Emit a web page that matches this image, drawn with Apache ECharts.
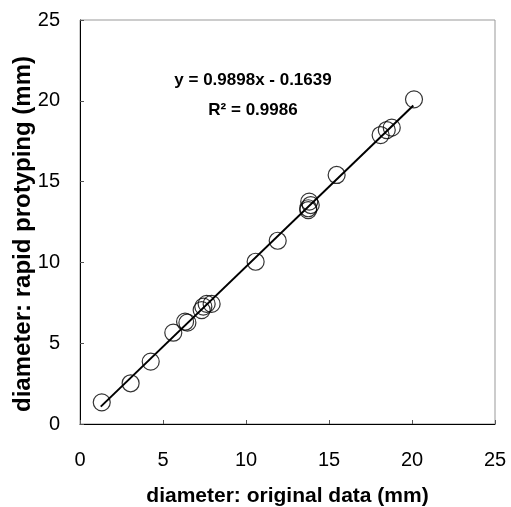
<!DOCTYPE html>
<html>
<head>
<meta charset="utf-8">
<script src="https://cdn.jsdelivr.net/npm/echarts@6/dist/echarts.min.js"></script>
<style>html,body{margin:0;padding:0;background:#fff;}#c{width:511px;height:507px;}</style>
</head>
<body>
<div id="c"></div>
<script>
// Data
const originalDiameter = [1.31, 3.05, 4.26, 5.62, 6.33, 6.47, 7.33, 7.43, 7.63, 7.93, 10.58, 11.91, 13.75, 13.81, 13.75, 13.9, 15.46, 18.11, 18.48, 18.78, 20.12];
const rapidDiameter   = [1.34, 2.52, 3.86, 5.65, 6.33, 6.27, 7.05, 7.26, 7.43, 7.43, 10.04, 11.34, 13.35, 13.76, 13.24, 13.55, 15.41, 17.88, 18.19, 18.34, 20.09];
const fitSlope = 0.9898;
const fitIntercept = -0.1639;
const fitRange = [1.25, 20.08];
const axisTicks = [0, 5, 10, 15, 20, 25];
const equationText = 'y = 0.9898x - 0.1639';
const r2Text = 'R\u00B2 = 0.9986';

const points = originalDiameter.map((x, i) => [x, rapidDiameter[i]]);
const fitLine = fitRange.map(x => [x, fitSlope * x + fitIntercept]);

const chart = echarts.init(document.getElementById('c'), null, {renderer: 'canvas'});
const font = '"Liberation Sans", Arial, sans-serif';
const axisCommon = {
  type: 'value', min: axisTicks[0], max: axisTicks[axisTicks.length - 1], interval: 5,
  splitLine: {show: false},
  axisLine: {show: true, lineStyle: {color: '#000', width: 1}},
  axisTick: {show: true, inside: true, length: 4, lineStyle: {color: '#555'}},
  axisLabel: {color: '#000', fontSize: 20, fontFamily: font},
  nameLocation: 'middle',
  nameMoveOverlap: false
};
chart.setOption({
  animation: false,
  backgroundColor: '#fff',
  grid: {left: 80, right: 16, top: 20, bottom: 83, show: true, borderColor: '#999', borderWidth: 1,
         containLabel: false, outerBoundsMode: 'none'},
  xAxis: Object.assign({}, axisCommon, {
    name: 'diameter: original data (mm)', nameGap: 62,
    nameTextStyle: {color: '#000', fontSize: 21, fontWeight: 'bold', fontFamily: font},
    axisLabel: Object.assign({}, axisCommon.axisLabel, {margin: 26})
  }),
  yAxis: Object.assign({}, axisCommon, {
    name: 'diameter: rapid protyping (mm)', nameGap: 45,
    nameTextStyle: {color: '#000', fontSize: 24, fontWeight: 'bold', fontFamily: font, padding: [0, 24, 0, 0]},
    axisLabel: Object.assign({}, axisCommon.axisLabel, {margin: 20})
  }),
  graphic: [
    {type: 'text', x: 253, y: 80, style: {text: equationText, font: 'bold 17px ' + font, fill: '#000', align: 'center', verticalAlign: 'middle'}},
    {type: 'text', x: 253, y: 110, style: {text: r2Text, font: 'bold 17px ' + font, fill: '#000', align: 'center', verticalAlign: 'middle'}}
  ],
  series: [
    {
      type: 'line', data: fitLine, symbol: 'none',
      lineStyle: {color: '#000', width: 2}, z: 2
    },
    {
      type: 'scatter', data: points, symbol: 'circle', symbolSize: 17,
      itemStyle: {color: 'rgba(0,0,0,0)', borderColor: '#000', borderWidth: 1.2}, z: 3
    }
  ]
});
</script>
</body>
</html>
